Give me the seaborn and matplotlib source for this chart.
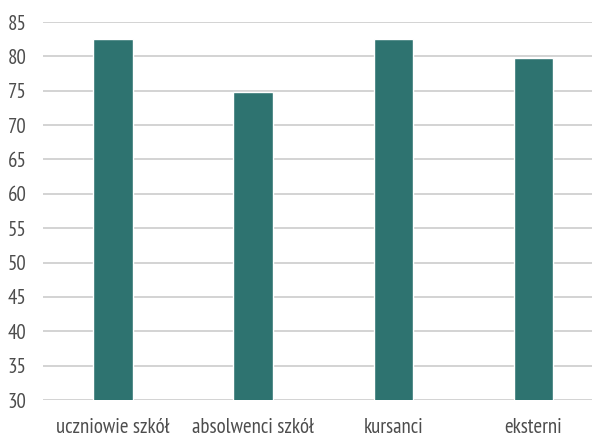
import matplotlib
matplotlib.use("Agg")
import matplotlib.pyplot as plt
import matplotlib.font_manager as fm
import seaborn as sns
import pandas as pd

# ===== Data =====
categories = ["uczniowie szkół", "absolwenci szkół", "kursanci", "eksterni"]
values = [82.5, 74.8, 82.5, 79.7]
yticks = [30, 35, 40, 45, 50, 55, 60, 65, 70, 75, 80, 85]

sns.set_theme(style="white")

# condensed font if the system has one, otherwise DejaVu at a smaller size
names = {f.name for f in fm.fontManager.ttflist}
condensed = [n for n in ["PT Sans Narrow", "Fira Sans Condensed", "Roboto Condensed",
                         "Archivo Narrow", "Liberation Sans Narrow"] if n in names]
if condensed:
    plt.rcParams["font.family"] = [condensed[0], "DejaVu Sans"]
    fsize = 15
else:
    plt.rcParams["font.family"] = ["DejaVu Sans"]
    fsize = 11

df = pd.DataFrame({"kategoria": categories, "wartosc": values})

fig = plt.figure(figsize=(5.92, 4.37), dpi=100)
ax = fig.add_axes([43 / 592, 1 - 400 / 437, 1 - 43 / 592, (400 - 22) / 437])

sns.barplot(data=df, x="kategoria", y="wartosc", color="#2E7370", width=0.28,
            saturation=1, ax=ax, zorder=3)

ax.set_ylim(30, 85)
ax.set_yticks(yticks)
ax.set_xlim(-0.5, 3.42)
ax.yaxis.grid(True, color="#C8C8C8", linewidth=1.1, zorder=0)
ax.xaxis.grid(False)
for s in ax.spines.values():
    s.set_visible(False)
ax.set_xlabel("")
ax.set_ylabel("")
ax.tick_params(axis="both", length=0, labelsize=fsize, labelcolor="#4D4D4D")
ax.tick_params(axis="y", pad=12)
ax.tick_params(axis="x", pad=13)

fig.savefig("out.png", dpi=100)
